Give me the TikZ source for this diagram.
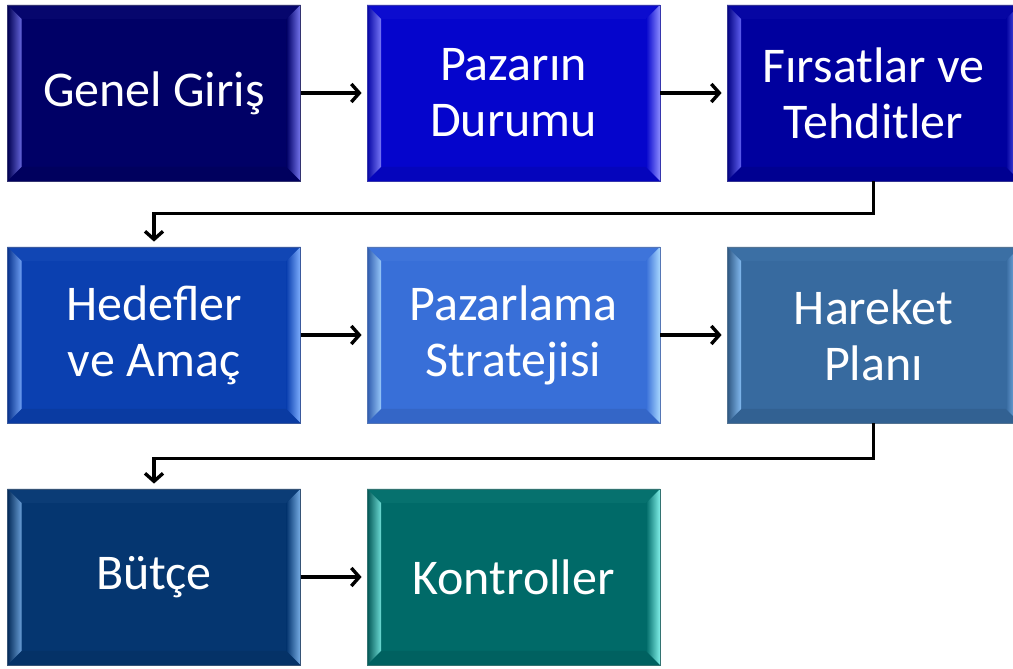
\documentclass[tikz,border=0pt]{standalone}
\usepackage{fontspec}
\setmainfont{Carlito}
\usetikzlibrary{arrows.meta,calc}

% face and highlight colours of the stage boxes
\definecolor{faceA}{HTML}{000066}\definecolor{hiA}{HTML}{7878F0}
\definecolor{faceB}{HTML}{0505CC}\definecolor{hiB}{HTML}{8C8CFF}
\definecolor{faceC}{HTML}{00009E}\definecolor{hiC}{HTML}{7070FF}
\definecolor{faceD}{HTML}{0B40B0}\definecolor{hiD}{HTML}{80B0FF}
\definecolor{faceE}{HTML}{386FD8}\definecolor{hiE}{HTML}{A8D8FF}
\definecolor{faceF}{HTML}{376A9F}\definecolor{hiF}{HTML}{90C8FF}
\definecolor{faceG}{HTML}{053670}\definecolor{hiG}{HTML}{7AB0E8}
\definecolor{faceH}{HTML}{006A68}\definecolor{hiH}{HTML}{80F0E8}

\tikzset{
  stage/.style 2 args={
    minimum width=293pt, minimum height=176pt, inner sep=0pt,
    fill=#1, draw=#1!60!gray, line width=0.8pt,
    text=white, align=center,
    font=\fontsize{50}{56}\selectfont,
    path picture={
      \coordinate (bnw) at (path picture bounding box.north west);
      \coordinate (bse) at (path picture bounding box.south east);
      \coordinate (bne) at (bse|-bnw);
      \coordinate (bsw) at (bnw|-bse);
      \coordinate (inw) at ($(bnw)+(14,-14)$);
      \coordinate (ine) at ($(bne)+(-14,-14)$);
      \coordinate (ise) at ($(bse)+(-14,14)$);
      \coordinate (isw) at ($(bsw)+(14,14)$);
      % bevel: top, bottom, left, right
      \fill[#2!5!#1] (bnw) -- (bne) -- (ine) -- (inw) -- cycle;
      \fill[#1!92!black] (bsw) -- (bse) -- (ise) -- (isw) -- cycle;
      \shade[left color=#1!80!black, right color=#2!85!#1]
        (bnw) -- (inw) -- (isw) -- (bsw) -- cycle;
      \shade[left color=#1, right color=#2]
        (bne) -- (ine) -- (ise) -- (bse) -- cycle;
    }
  },
  link/.style={line width=3.6pt, -{Straight Barb[length=8pt,width=18pt,line width=3.4pt]}, shorten >=5pt}
}

\begin{document}
\begin{tikzpicture}[x=1pt,y=1pt]
  \useasboundingbox (0,0) rectangle (1013,669);
  \clip (0,0) rectangle (1013,669);
  \fill[white] (0,0) rectangle (1013,669);

  % first row
  \node[stage={faceA}{hiA}] (giris)   at (154,576)   {Genel Giriş};
  \node[stage={faceB}{hiB}] (pazar)   at (513.5,576) {Pazarın\\Durumu};
  \node[stage={faceC}{hiC}] (firsat)  at (873.5,576) {Fırsatlar ve\\Tehditler};
  % second row
  \node[stage={faceD}{hiD}] (hedef)   at (154,334)   {Hedefler\\ve Amaç};
  \node[stage={faceE}{hiE}] (strat)   at (513.5,334) {Pazarlama\\Stratejisi};
  \node[stage={faceF}{hiF}] (plan)    at (873.5,334) {Hareket\\Planı};
  % third row
  \node[stage={faceG}{hiG}] (butce)   at (154,92)    {Bütçe};
  \node[stage={faceH}{hiH}] (kontrol) at (513.5,92)  {Kontroller};

  % connectors
  \draw[link] (giris.east) -- (pazar.west);
  \draw[link] (pazar.east) -- (firsat.west);
  \draw[link] (firsat.south) -- ++(0,-32) -| (hedef.north);
  \draw[link] (hedef.east) -- (strat.west);
  \draw[link] (strat.east) -- (plan.west);
  \draw[link] (plan.south) -- ++(0,-35) -| (butce.north);
  \draw[link] (butce.east) -- (kontrol.west);
\end{tikzpicture}
\end{document}
